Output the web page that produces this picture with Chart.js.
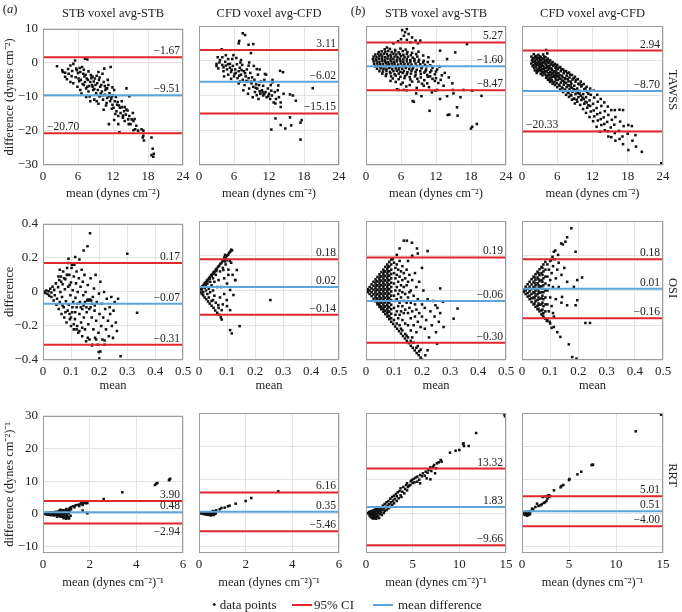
<!DOCTYPE html>
<html><head><meta charset="utf-8">
<script src="https://cdn.jsdelivr.net/npm/chart.js@4/dist/chart.umd.min.js"></script>
<style>
body{margin:0;width:682px;height:612px;position:relative;background:#fff;font-family:'Liberation Serif',serif;overflow:hidden;color:#222}
canvas{position:absolute}
.t{position:absolute;white-space:nowrap;font-size:12.5px;line-height:1}
.lg{position:absolute;white-space:nowrap;font-size:13px;line-height:1;transform:translateY(-50%)}
.ln{position:absolute;height:2px;width:20px}
</style></head><body>
<script>
// ---------- text ----------
const colTitles = ['STB voxel avg-STB','CFD voxel avg-CFD','STB voxel avg-STB','CFD voxel avg-CFD'];
const rowLabels = ['TAWSS','OSI','RRT'];
const yTitles = ['difference (dynes cm\u207B\u00B2)','difference','difference (dynes cm\u207B\u00B2)\u207B\u00B9'];
const xTitles = ['mean (dynes cm\u207B\u00B2)','mean','mean (dynes cm\u207B\u00B2)\u207B\u00B9'];
const legendLabels = ['data points','95% CI','mean difference'];

// ---------- axes ----------
const tawssXTicks = [0,6,12,18,24];
const osiXTicks = [0,0.1,0.2,0.3,0.4,0.5];
const rrtXTicksA = [0,2,4,6];
const rrtXTicksB = [0,5,10,15];
const tawssYTicks = [-30,-20,-10,0,10];
const osiYTicks = [-0.4,-0.2,0,0.2,0.4];
const rrtYTicks = [-10,0,10,20,30];
const yRanges = [[-30,10],[-0.4,0.4],[-12,30]];

// ---------- reference lines (per panel: TAWSS a-STB, a-CFD, b-STB, b-CFD, OSI ..., RRT ...) ----------
const ciUpper  = [1.67,3.11,5.27,2.94, 0.17,0.18,0.19,0.18, 3.90,6.16,13.32,5.01];
const meanDiff = [-9.51,-6.02,-1.60,-8.70, -0.07,0.02,-0.06,0.01, 0.48,0.35,1.83,0.51];
const ciLower  = [-20.70,-15.15,-8.47,-20.33, -0.31,-0.14,-0.30,-0.16, -2.94,-5.46,-9.66,-4.00];
const upperText = ['\u22121.67','3.11','5.27','2.94','0.17','0.18','0.19','0.18','3.90','6.16','13.32','5.01'];
const meanText  = ['\u22129.51','\u22126.02','\u22121.60','\u22128.70','\u22120.07','0.02','\u22120.06','0.01','0.48','0.35','1.83','0.51'];
const lowerText = ['\u221220.70','\u221215.15','\u22128.47','\u221220.33','\u22120.31','\u22120.14','\u22120.30','\u22120.16','\u22122.94','\u22125.46','\u22129.66','\u22124.00'];
const lowerPos  = ['L','R','R','L','R','R','R','R','B','R','R','R'];

// ---------- data points [x,y, x,y, ...] ----------
const tawssStbA = [2.4,-1.0, 3.3,-2.2, 3.4,-2.7, 3.8,-4.1, 3.8,-2.9, 4.1,-4.8, 4.3,-1.8, 4.4,-3.2, 4.7,-5.6, 4.7,-0.8, 4.9,-3.9, 5.0,-2.4, 5.2,-6.0, 5.2,-0.3, 5.5,0.7, 5.6,-4.2, 5.7,-1.7, 5.8,-2.2, 6.0,-3.0, 6.1,-4.6, 6.2,-5.4, 6.4,-2.7, 6.4,-8.0, 6.5,-5.0, 6.7,-1.2, 6.8,-6.2, 6.9,-3.2, 7.0,-2.0, 7.0,-6.5, 7.2,-5.6, 7.2,1.2, 7.3,-3.5, 7.4,-7.5, 7.5,-4.6, 7.6,1.0, 7.6,-7.0, 7.7,-5.0, 7.8,-8.4, 7.9,-6.8, 8.0,-9.9, 8.1,-5.6, 8.2,-3.6, 8.3,-4.5, 8.4,-6.5, 8.5,-7.0, 8.6,-8.0, 8.7,-5.5, 8.8,-10.8, 8.8,-7.7, 8.9,-4.6, 9.0,-6.5, 9.1,-8.9, 9.2,-11.3, 9.3,-6.0, 9.4,-8.0, 9.5,-2.7, 9.6,-5.0, 9.7,-9.9, 9.8,-7.0, 9.9,-9.0, 10.0,-6.5, 10.1,-8.4, 10.2,-9.5, 10.3,-10.8, 10.4,-5.6, 10.5,-1.7, 10.6,-9.4, 10.7,-8.0, 10.8,-7.5, 10.8,-12.5, 10.9,-11.8, 11.0,-10.3, 11.0,-7.5, 11.2,-6.5, 11.3,-9.8, 11.3,-18.0, 11.4,-8.9, 11.5,-11.3, 11.6,-1.2, 11.7,-10.5, 11.8,-9.9, 11.8,-13.5, 11.9,-12.3, 12.0,-9.5, 12.1,-13.2, 12.2,-8.0, 12.3,-11.3, 12.4,-15.0, 12.5,-10.0, 12.6,-14.2, 12.7,-12.3, 12.8,-11.5, 12.9,-15.6, 12.9,-18.0, 13.0,-12.5, 13.1,-20.4, 13.2,-13.2, 13.3,-14.7, 13.5,-11.3, 13.5,-13.0, 13.7,-16.1, 13.7,-15.5, 13.9,-14.2, 14.0,-17.1, 14.0,-13.0, 14.2,-15.2, 14.3,-13.7, 14.3,-7.5, 14.5,-14.0, 14.6,-16.6, 14.7,-18.0, 14.8,-15.6, 14.8,-9.8, 15.0,-18.0, 15.2,-16.6, 15.4,-14.7, 15.5,-17.1, 15.5,-19.8, 15.7,-16.5, 15.8,-19.5, 16.0,-18.5, 16.3,-19.9, 16.9,-19.5, 17.1,-21.9, 17.2,-19.9, 17.2,-21.4, 17.3,-22.8, 18.6,-21.9, 18.8,-25.2, 18.6,-27.1, 19.0,-26.7, 18.9,-27.6, 6.3,-1.5, 7.1,-4.0, 7.8,-2.5, 8.5,-4.0, 9.2,-3.8, 9.7,-4.3, 10.2,-3.2, 10.6,-6.8, 11.1,-5.0, 11.9,-7.2, 8.1,-11.3, 9.5,-12.0, 10.4,-13.8, 12.2,-16.8, 5.9,-7.0, 6.6,-9.0, 7.4,-10.0];

const tawssCfdA = [7.5,7.9, 7.9,7.4, 6.9,5.7, 6.8,5.0, 8.5,4.6, 9.3,4.8, 3.9,3.3, 8.9,2.2, 5.9,1.6, 4.6,1.6, 19.5,-7.9, 12.4,-19.8, 14.0,-18.5, 14.8,-19.5, 15.8,-18.6, 17.4,-17.8, 17.6,-17.1, 17.4,-22.7, 16.6,-11.5, 15.6,-9.7, 14.0,-13.3, 13.1,-12.3, 13.1,-16.6, 15.6,-16.3, 13.9,-2.9, 14.4,-3.3, 16.1,-10.0, 13.6,-7.1, 12.6,-6.2, 11.3,-3.8, 9.9,-2.4, 3.0,-0.9, 3.5,-0.5, 4.2,-1.9, 5.3,-0.9, 7.1,-0.5, 8.5,-1.4, 3.0,-1.5, 3.3,-2.2, 3.6,0.2, 4.0,-1.2, 4.2,-3.0, 4.5,-0.3, 4.8,-2.5, 5.0,-1.0, 5.0,-4.0, 5.3,-2.0, 5.5,-3.2, 5.7,0.5, 5.8,-1.5, 6.0,-4.5, 6.2,-2.5, 6.3,-3.5, 6.5,-1.0, 6.6,-5.0, 6.8,-3.0, 7.0,-2.0, 7.0,-6.0, 7.2,-4.0, 7.4,-1.2, 7.5,-5.5, 7.7,-3.0, 7.8,-7.0, 8.0,-4.5, 8.2,-2.5, 8.3,-6.0, 8.5,-5.0, 8.6,-8.0, 8.8,-3.5, 9.0,-6.5, 9.1,-4.8, 9.3,-7.5, 9.5,-5.5, 9.6,-9.0, 9.8,-6.8, 10.0,-8.0, 10.1,-4.0, 10.3,-7.0, 10.5,-9.5, 10.6,-6.0, 10.8,-8.5, 11.0,-10.0, 11.0,-7.2, 11.2,-5.5, 11.4,-9.0, 11.6,-10.5, 11.8,-8.0, 12.0,-9.5, 12.2,-11.0, 12.3,-7.0, 12.5,-10.0, 12.8,-12.0, 13.0,-9.0, 13.2,-11.0, 13.5,-8.5, 13.7,-10.5, 14.0,-12.0, 14.5,-9.5, 4.3,-4.5, 5.5,-5.2, 6.8,-6.5, 7.6,-8.5, 8.4,-9.5, 9.2,-10.5, 10.2,-11.0, 3.2,1.0, 4.0,1.0, 5.0,0.5, 6.4,0.8, 7.2,0.2, 8.6,-0.5, 9.4,-1.5, 10.4,-2.5, 11.5,-4.0, 12.6,-5.5, 6.1,-3.8, 6.9,-4.3, 7.3,-2.7, 8.1,-5.8, 8.9,-6.0, 9.7,-7.8, 10.4,-8.8, 11.2,-9.6, 11.9,-10.2, 10.9,-9.1, 9.9,-9.9, 12.4,-8.6, 7.9,-3.6, 5.6,-2.6, 4.6,-1.4];

const tawssStbB = [6.2,8.8, 7.0,9.1, 6.7,8.2, 7.3,7.7, 6.5,7.2, 7.9,6.7, 8.5,5.8, 9.3,5.8, 7.6,5.3, 4.7,5.0, 8.9,5.0, 6.0,6.2, 5.5,5.6, 7.0,6.0, 3.6,3.8, 17.3,4.8, 15.3,2.4, 12.7,2.9, 10.7,1.0, 13.9,0.5, 11.5,-0.2, 12.2,-2.5,
 4.2,-5.8, 5.3,-8.2, 6.5,-8.4, 8.2,-11.8, 8.0,-11.6, 8.6,-9.4, 9.9,-7.2, 10.9,-14.4, 11.3,-9.1, 12.2,-8.4, 12.7,-11.0, 13.3,-7.2, 13.9,-10.2, 14.2,-4.8, 14.0,-15.6, 14.3,-15.5, 15.7,-15.8, 15.6,-13.4, 15.0,-9.4, 16.2,-10.5, 16.7,-8.4, 18.0,-19.5, 18.2,-19.0, 19.0,-18.2, 19.8,-10.1, 18.2,-8.6, 11.8,-5.8, 10.5,-6.5, 9.5,-10.2, 7.5,-7.0, 6.0,-6.8, 11.0,-4.5, 12.8,-5.5, 13.5,-3.5, 10.2,-3.0, 14.8,-6.5, 9.0,-6.0,
 3.2,3.3, 4.1,3.4, 5.0,3.1, 5.9,3.5, 6.8,3.2, 8.1,3.6,
 2.2,2.5, 2.7,2.7, 3.3,2.6, 3.8,2.8, 4.4,2.5, 5.0,2.7, 5.6,2.4, 6.3,2.8, 7.1,2.5, 7.9,2.3, 9.0,2.6,
 1.6,1.8, 2.1,2.0, 2.6,1.8, 3.1,2.0, 3.6,1.9, 4.2,1.7, 4.7,2.0, 5.2,1.8, 5.8,1.9, 6.4,1.7, 7.0,2.0, 7.7,1.6, 8.6,1.9, 9.8,1.5,
 1.3,1.2, 1.8,1.1, 2.3,1.3, 2.8,1.2, 3.3,1.0, 3.8,1.3, 4.3,1.1, 4.9,1.2, 5.4,1.0, 6.0,1.3, 6.6,1.1, 7.2,1.2, 8.0,0.9, 8.8,1.2,
 1.2,0.5, 1.7,0.4, 2.2,0.6, 2.7,0.5, 3.2,0.3, 3.7,0.6, 4.2,0.4, 4.7,0.5, 5.3,0.3, 5.8,0.6, 6.4,0.4, 7.0,0.5, 7.6,0.2, 8.3,0.5, 9.1,0.3, 9.9,0.0,
 1.3,-0.2, 1.8,-0.1, 2.3,-0.3, 2.8,-0.1, 3.3,-0.2, 3.8,-0.4, 4.3,-0.1, 4.8,-0.3, 5.3,-0.2, 5.9,-0.1, 6.4,-0.3, 7.0,-0.2, 7.6,-0.4, 8.3,-0.1, 9.0,-0.3, 9.8,-0.5, 10.6,-0.4,
 1.4,-0.9, 1.9,-0.8, 2.4,-1.0, 2.9,-0.9, 3.4,-0.7, 3.9,-1.0, 4.4,-0.8, 4.9,-0.9, 5.5,-1.1, 6.0,-0.8, 6.6,-1.0, 7.2,-0.9, 7.8,-1.1, 8.5,-0.8, 9.3,-1.0, 10.1,-1.2, 11.0,-1.3,
 1.6,-1.6, 2.1,-1.5, 2.6,-1.7, 3.1,-1.6, 3.6,-1.4, 4.1,-1.7, 4.6,-1.5, 5.2,-1.6, 5.7,-1.8, 6.3,-1.5, 6.9,-1.7, 7.5,-1.6, 8.1,-1.9, 8.8,-1.5, 9.6,-1.8, 10.4,-1.6, 11.4,-2.0, 12.6,-1.7,
 1.9,-2.3, 2.5,-2.2, 3.0,-2.4, 3.5,-2.3, 4.0,-2.1, 4.5,-2.4, 5.1,-2.2, 5.6,-2.5, 6.2,-2.3, 6.8,-2.1, 7.4,-2.4, 8.0,-2.3, 8.7,-2.6, 9.5,-2.2, 10.3,-2.5, 11.2,-2.8,
 2.3,-3.0, 2.9,-3.1, 3.5,-2.9, 4.1,-3.2, 4.7,-3.0, 5.3,-2.9, 5.9,-3.2, 6.5,-3.0, 7.1,-3.3, 7.8,-2.9, 8.5,-3.2, 9.3,-3.0, 10.0,-3.4, 11.0,-3.3, 12.0,-3.1,
 2.8,-3.7, 3.5,-3.8, 4.2,-3.6, 4.9,-3.9, 5.6,-3.7, 6.3,-3.5, 7.0,-3.9, 7.7,-3.7, 8.5,-4.0, 9.4,-3.8, 10.5,-4.1, 11.8,-3.9, 13.0,-4.2,
 3.4,-4.4, 4.3,-4.5, 5.1,-4.3, 5.9,-4.6, 6.7,-4.4, 7.5,-4.7, 8.4,-4.5, 9.4,-4.8, 10.6,-4.6, 12.0,-5.0,
 4.6,-5.1, 5.6,-5.3, 6.6,-5.0, 7.6,-5.4, 8.8,-5.2, 10.0,-5.6, 11.4,-5.2,
 5.1,-6.1, 6.3,-6.3, 7.9,-6.0, 9.6,-6.6, 12.4,-6.4, 6.9,-7.4, 8.7,-7.8, 10.8,-7.6, 5.6,-8.4, 7.0,-8.5, 11.9,-8.6, 14.9,-8.4];

const tawssCfdB = [1.6,1.2, 1.7,0.1, 1.6,-0.8, 2.0,1.9, 2.1,0.7, 1.9,-0.3, 2.0,-1.3, 2.1,-2.1, 2.4,1.4, 2.5,0.4, 2.3,-0.6, 2.4,-1.7, 2.6,-2.5, 2.5,-3.5, 2.8,1.7, 2.9,0.8, 2.8,-0.2, 2.7,-1.1, 2.9,-2.1, 2.8,-3.0, 3.2,1.1, 3.3,0.2, 3.1,-0.9, 3.2,-1.8, 3.3,-2.9, 3.2,-3.8, 3.6,1.8, 3.7,0.5, 3.5,-0.4, 3.6,-1.5, 3.7,-2.4, 3.6,-3.3, 3.5,-4.2, 4.0,1.0, 4.1,3.1, 4.3,2.1, 3.9,0.0, 4.0,-1.0, 4.1,-2.1, 3.9,-3.0, 4.0,-4.0, 4.1,-4.9, 4.4,0.6, 4.5,-0.6, 4.3,-1.7, 4.4,-2.6, 4.5,-3.6, 4.3,-4.6, 4.4,-5.4, 4.8,0.1, 4.9,-1.1, 4.7,-2.0, 4.8,-3.2, 4.9,-4.1, 4.7,-5.0, 4.8,-6.1, 5.2,-0.4, 5.3,-1.5, 5.1,-2.6, 5.2,-3.7, 5.3,-4.6, 5.1,-5.7, 5.2,-6.6, 5.6,-0.9, 5.7,-2.0, 5.5,-3.0, 5.6,-4.1, 5.7,-5.0, 5.5,-6.1, 5.6,-7.0, 6.0,-1.2, 6.1,-2.4, 5.9,-3.5, 6.0,-4.4, 6.1,-5.5, 5.9,-6.5, 6.0,-7.6, 6.5,-1.8, 6.6,-3.0, 6.4,-4.1, 6.5,-5.2, 6.6,-6.3, 6.4,-7.2, 6.5,-8.3, 7.0,-2.5, 7.1,-3.6, 6.9,-4.8, 7.0,-5.8, 7.1,-6.9, 6.9,-7.9, 7.0,-9.0, 7.5,-3.0, 7.6,-4.3, 7.4,-5.3, 7.5,-6.4, 7.6,-7.6, 7.4,-8.6, 7.5,-9.8, 8.0,-3.4, 8.1,-4.8, 7.9,-5.9, 8.0,-7.1, 8.1,-8.1, 7.9,-9.3, 8.0,-10.4, 8.5,-4.1, 8.6,-5.4, 8.4,-6.6, 8.5,-7.8, 8.6,-8.9, 8.4,-10.0, 8.5,-11.2, 9.0,-4.6, 9.1,-6.0, 8.9,-7.2, 9.0,-8.4, 9.1,-9.6, 8.9,-10.9, 9.0,-12.3, 9.5,-5.3, 9.6,-6.6, 9.4,-8.0, 9.5,-9.3, 9.6,-10.5, 9.4,-11.8, 10.0,-6.0, 10.1,-7.4, 9.9,-8.7, 10.0,-10.1, 10.1,-11.3, 9.9,-12.7, 10.5,-6.7, 10.6,-8.2, 10.4,-9.6, 10.5,-11.0, 10.6,-12.4, 10.4,-13.9, 11.0,-7.5, 11.1,-9.0, 10.9,-10.5, 11.0,-12.0, 11.1,-13.5, 10.9,-15.0, 11.6,-8.0, 11.7,-9.8, 11.5,-11.4, 11.6,-13.0, 11.7,-14.6, 11.5,-16.2, 12.2,-8.6, 12.3,-10.6, 12.1,-12.4, 12.2,-14.3, 12.3,-16.0, 12.1,-17.4, 12.8,-9.8, 12.9,-11.8, 12.7,-13.6, 12.8,-15.4, 12.9,-17.2, 12.7,-19.0, 13.4,-11.0, 13.5,-13.0, 13.3,-15.0, 13.4,-16.8, 13.5,-18.5, 13.3,-20.4, 14.0,-12.0, 14.1,-14.5, 13.9,-16.3, 14.0,-18.2, 14.1,-20.0, 14.6,-13.2, 14.7,-15.6, 14.5,-17.6, 14.6,-20.3, 14.7,-21.8, 15.2,-14.2, 15.3,-17.0, 15.1,-19.2, 15.2,-22.0, 15.8,-14.2, 15.9,-16.2, 15.7,-18.4, 15.8,-20.8, 15.9,-23.0, 16.6,-14.1, 16.7,-17.5, 16.5,-20.2, 16.6,-22.5, 17.2,-14.2, 17.3,-18.8, 17.1,-21.8, 17.2,-24.0, 18.1,-18.5, 18.0,-21.0, 18.1,-25.7, 18.7,-18.8, 18.8,-23.0, 19.3,-21.4, 19.4,-24.7, 20.4,-26.2, 23.7,-29.5, 2.2,0.0, 2.6,-1.2, 3.0,-0.4, 3.4,-1.3, 3.8,-2.0, 4.2,-0.4, 4.6,-1.5, 5.0,-2.2, 5.4,-3.3, 5.8,-2.8, 3.0,1.2, 3.4,-3.3, 4.2,-3.1, 5.0,-4.8, 5.8,-4.6, 6.2,-3.6, 6.8,-4.3, 7.2,-6.2, 7.8,-5.2, 8.3,-6.0,
 1.8,0.6, 1.8,-1.6, 2.2,1.1, 2.2,-1.0, 2.2,-2.8, 2.6,0.9, 2.6,-0.6, 2.6,-3.0, 3.0,0.3, 3.0,-1.5, 3.0,-2.6, 3.4,0.7, 3.4,-0.8, 3.4,-2.4, 3.8,1.2, 3.8,-0.5, 3.8,-3.6, 4.2,0.2, 4.2,-1.4, 4.2,-4.3, 4.6,-0.2, 4.6,-2.3, 4.6,-4.2, 4.6,-5.6, 5.0,-0.8, 5.0,-3.4, 5.0,-5.5, 5.4,-1.2, 5.4,-4.4, 5.4,-6.2, 5.8,-1.7, 5.8,-3.7, 5.8,-5.6, 6.2,-2.0, 6.3,-4.8, 6.3,-6.9, 6.7,-2.4, 6.8,-5.7, 6.8,-7.7, 7.2,-3.0, 7.3,-5.0, 7.3,-8.3, 7.7,-3.6, 7.8,-7.0, 7.8,-9.0, 8.2,-4.0, 8.3,-7.4, 8.3,-9.8, 8.8,-5.0, 8.8,-8.2, 8.8,-11.0, 9.2,-5.5, 9.3,-8.8, 9.3,-11.2, 9.8,-6.8, 9.8,-9.5, 10.2,-7.0, 10.3,-10.6, 10.8,-8.0, 10.8,-11.8, 11.3,-9.5, 11.3,-12.8];

const osiStbA = [0.004,0.002, 0.008,-0.006, 0.012,0.008, 0.016,-0.012, 0.02,0.004, 0.022,-0.022, 0.026,0.018, 0.03,-0.03, 0.03,-0.004, 0.034,0.03, 0.038,-0.05, 0.04,0.012, 0.042,-0.02, 0.046,0.05, 0.048,-0.075, 0.05,-0.04, 0.054,0.028, 0.056,-0.1, 0.058,0.07, 0.06,-0.06, 0.062,0.0, 0.064,0.09, 0.066,-0.13, 0.068,-0.03, 0.07,0.045, 0.072,0.12, 0.074,-0.09, 0.076,-0.15, 0.078,0.015, 0.08,0.075, 0.082,-0.055, 0.084,-0.18, 0.086,0.14, 0.088,-0.11, 0.09,0.03, 0.09,0.17, 0.092,-0.075, 0.094,0.1, 0.096,-0.16, 0.098,-0.02, 0.1,0.055, 0.1,-0.2, 0.102,0.14, 0.104,-0.12, 0.106,0.01, 0.108,-0.06, 0.11,0.09, 0.11,-0.22, 0.112,0.16, 0.114,-0.16, 0.116,-0.035, 0.118,0.05, 0.12,-0.09, 0.12,0.12, 0.122,-0.2, 0.124,0.0, 0.126,-0.24, 0.128,0.08, 0.13,-0.13, 0.13,0.19, 0.132,-0.06, 0.134,0.03, 0.136,-0.18, 0.138,0.13, 0.14,-0.1, 0.14,-0.26, 0.142,0.06, 0.144,-0.02, 0.146,-0.15, 0.148,0.1, 0.15,-0.22, 0.15,-0.06, 0.152,0.0, 0.154,-0.29, 0.156,-0.12, 0.158,-0.05, 0.16,0.04, 0.16,-0.045, 0.162,-0.19, 0.164,-0.05, 0.166,-0.28, 0.168,-0.045, 0.17,-0.09, 0.17,0.08, 0.172,-0.05, 0.174,-0.15, 0.176,-0.31, 0.178,-0.03, 0.18,-0.22, 0.182,0.02, 0.184,-0.11, 0.186,-0.27, 0.188,0.1, 0.19,-0.17, 0.192,-0.06, 0.195,-0.31, 0.198,-0.24, 0.2,-0.01, 0.202,-0.13, 0.205,0.06, 0.208,-0.2, 0.21,-0.07, 0.212,-0.28, 0.215,-0.15, 0.218,0.0, 0.22,-0.31, 0.222,-0.1, 0.225,-0.22, 0.228,-0.04, 0.232,-0.17, 0.235,-0.26, 0.238,-0.09, 0.24,-0.13, 0.244,-0.03, 0.246,-0.2, 0.25,-0.27, 0.252,-0.11, 0.256,-0.06, 0.26,-0.18, 0.264,-0.23, 0.268,-0.04, 0.168,0.345, 0.159,0.268, 0.301,0.224, 0.336,-0.122, 0.277,-0.378, 0.201,-0.391, 0.199,-0.353, 0.145,0.243, 0.115,0.205, 0.091,0.195, 0.103,0.16, 0.175,-0.315, 0.19,-0.28, 0.205,-0.35, 0.16,-0.27, 0.22,-0.285, 0.06,0.13, 0.075,0.08, 0.095,0.04, 0.105,-0.09, 0.115,-0.12, 0.125,-0.07, 0.135,-0.09, 0.145,-0.08, 0.155,-0.09, 0.165,-0.1, 0.175,-0.07, 0.185,-0.08, 0.08,-0.12, 0.07,-0.08, 0.055,0.09, 0.065,0.06, 0.085,0.1, 0.095,-0.13, 0.1,-0.15, 0.11,-0.19, 0.12,-0.22, 0.13,-0.23, 0.14,-0.21];

const osiCfdA = [0.004,0.008, 0.008,0.015, 0.012,0.024, 0.016,0.031, 0.02,0.041, 0.024,0.047, 0.028,0.057, 0.032,0.063, 0.036,0.073, 0.04,0.079, 0.044,0.089, 0.048,0.095, 0.052,0.105, 0.056,0.11, 0.06,0.121, 0.064,0.126, 0.068,0.137, 0.072,0.142, 0.076,0.153, 0.08,0.158, 0.084,0.169, 0.088,0.174, 0.092,0.185, 0.096,0.19, 0.1,0.201, 0.104,0.206, 0.108,0.217, 0.112,0.224, 0.115,0.235, 0.118,0.231,
 0.005,-0.01, 0.01,-0.02, 0.015,-0.028, 0.02,-0.04, 0.026,-0.05, 0.032,-0.063, 0.038,-0.075, 0.045,-0.088, 0.052,-0.1, 0.058,-0.115, 0.065,-0.128, 0.072,-0.14, 0.078,-0.155, 0.081,-0.167,
 0.01,0.005, 0.015,-0.01, 0.02,0.015, 0.025,0.0, 0.025,0.03, 0.03,-0.02, 0.03,0.04, 0.035,0.01, 0.035,-0.04, 0.04,0.05, 0.04,-0.01, 0.045,0.03, 0.045,-0.06, 0.05,0.07, 0.05,0.0, 0.055,-0.03, 0.055,0.05, 0.06,0.09, 0.06,-0.07, 0.065,0.02, 0.07,0.06, 0.07,-0.1, 0.075,0.11, 0.075,-0.04, 0.08,0.02, 0.085,0.13, 0.085,-0.08, 0.09,0.07, 0.09,-0.02, 0.095,0.15, 0.1,0.04, 0.1,-0.09, 0.105,0.12, 0.11,0.17, 0.12,0.09, 0.13,0.06, 0.135,0.118, 0.129,0.06, 0.111,0.003, 0.099,-0.055, 0.123,-0.026, 0.105,0.09, 0.093,0.205, 0.093,0.167, 0.087,0.118, 0.081,-0.113, 0.111,-0.113, 0.069,-0.084, 0.05,-0.055, 0.255,-0.055, 0.145,-0.205, 0.111,-0.228, 0.117,-0.247, 0.09,0.19, 0.1,0.175, 0.115,0.16, 0.03,0.055, 0.038,0.068, 0.046,0.085, 0.054,0.098, 0.062,0.112];

const osiStbB = [0.006,0.0, 0.006,0.008, 0.006,-0.009, 0.013,0.02, 0.013,0.0, 0.013,-0.02, 0.02,0.035, 0.02,0.012, 0.02,-0.01, 0.02,-0.032,
 0.027,0.05, 0.027,0.027, 0.027,0.004, 0.027,-0.022, 0.027,-0.047, 0.034,0.064, 0.034,0.04, 0.034,0.015, 0.034,-0.01, 0.034,-0.035, 0.034,-0.062,
 0.041,0.078, 0.041,0.054, 0.041,0.03, 0.041,0.005, 0.041,-0.02, 0.041,-0.045, 0.041,-0.07, 0.041,-0.08,
 0.048,0.093, 0.048,0.068, 0.048,0.043, 0.048,0.018, 0.048,-0.007, 0.048,-0.032, 0.048,-0.057, 0.048,-0.082, 0.048,-0.094,
 0.055,0.106, 0.055,0.082, 0.055,0.057, 0.055,0.032, 0.055,0.007, 0.055,-0.018, 0.055,-0.043, 0.055,-0.068, 0.055,-0.093, 0.055,-0.108,
 0.062,0.12, 0.062,0.096, 0.062,0.07, 0.062,0.045, 0.062,0.02, 0.062,-0.005, 0.062,-0.03, 0.062,-0.055, 0.062,-0.08, 0.062,-0.105, 0.062,-0.122,
 0.069,0.136, 0.069,0.11, 0.069,0.084, 0.069,0.058, 0.069,0.033, 0.069,0.008, 0.069,-0.017, 0.069,-0.042, 0.069,-0.067, 0.069,-0.092, 0.069,-0.117, 0.069,-0.136,
 0.076,0.15, 0.076,0.124, 0.076,0.098, 0.076,0.072, 0.076,0.046, 0.076,0.02, 0.076,-0.005, 0.076,-0.03, 0.076,-0.056, 0.076,-0.082, 0.076,-0.108, 0.076,-0.13, 0.076,-0.15,
 0.083,0.165, 0.083,0.138, 0.083,0.11, 0.083,0.085, 0.083,0.06, 0.083,0.034, 0.083,0.008, 0.083,-0.018, 0.083,-0.044, 0.083,-0.07, 0.083,-0.096, 0.083,-0.122, 0.083,-0.148, 0.083,-0.165,
 0.09,0.178, 0.09,0.15, 0.09,0.12, 0.09,0.095, 0.09,0.07, 0.09,0.045, 0.09,0.02, 0.09,-0.005, 0.09,-0.03, 0.09,-0.056, 0.09,-0.082, 0.09,-0.108, 0.09,-0.134, 0.09,-0.16, 0.09,-0.18,
 0.0375,0.052, 0.0375,0.027, 0.0375,0.002, 0.0375,-0.023, 0.0375,-0.048,
 0.0515,0.08, 0.0515,0.055, 0.0515,0.03, 0.0515,0.005, 0.0515,-0.02, 0.0515,-0.045, 0.0515,-0.07, 0.0515,-0.095,
 0.0655,0.108, 0.0655,0.083, 0.0655,0.058, 0.0655,0.032, 0.0655,0.007, 0.0655,-0.018, 0.0655,-0.043, 0.0655,-0.068, 0.0655,-0.093, 0.0655,-0.118,
 0.0795,0.137, 0.0795,0.111, 0.0795,0.085, 0.0795,0.059, 0.0795,0.033, 0.0795,0.007, 0.0795,-0.018, 0.0795,-0.043, 0.0795,-0.069, 0.0795,-0.095, 0.0795,-0.121, 0.0795,-0.145,
 0.097,-0.192, 0.104,-0.207, 0.111,-0.22, 0.118,-0.234, 0.125,-0.248, 0.132,-0.262, 0.139,-0.276, 0.146,-0.29, 0.153,-0.303, 0.16,-0.318, 0.167,-0.33, 0.174,-0.345, 0.181,-0.36, 0.188,-0.372, 0.195,-0.386, 0.2,-0.398,
 0.1,-0.17, 0.11,-0.19, 0.12,-0.2, 0.13,-0.23, 0.14,-0.25, 0.15,-0.27, 0.16,-0.29, 0.17,-0.3, 0.18,-0.33, 0.19,-0.35, 0.125,-0.22, 0.145,-0.26, 0.165,-0.27, 0.185,-0.32, 0.195,-0.34,
 0.1,0.16, 0.1,0.1, 0.1,0.04, 0.1,-0.03, 0.1,-0.1, 0.105,0.13, 0.105,0.07, 0.105,0.0, 0.105,-0.06, 0.105,-0.14, 0.11,0.15, 0.11,0.09, 0.11,0.02, 0.11,-0.05, 0.11,-0.12, 0.115,0.12, 0.115,0.05, 0.115,-0.02, 0.115,-0.09, 0.115,-0.16, 0.12,0.17, 0.12,0.08, 0.12,0.0, 0.12,-0.07, 0.12,-0.14, 0.125,0.11, 0.125,0.03, 0.125,-0.04, 0.125,-0.12, 0.13,0.14, 0.13,0.06, 0.13,-0.01, 0.13,-0.09, 0.13,-0.17, 0.135,0.1, 0.135,0.02, 0.135,-0.06, 0.135,-0.13, 0.14,0.07, 0.14,-0.02, 0.14,-0.11, 0.14,-0.19, 0.145,0.12, 0.145,0.03, 0.145,-0.07, 0.15,0.17, 0.15,0.05, 0.15,-0.04, 0.15,-0.13, 0.15,-0.2, 0.155,0.09, 0.155,-0.01, 0.155,-0.1, 0.16,0.0, 0.16,-0.07, 0.16,-0.16, 0.16,-0.23, 0.165,0.06, 0.165,-0.12, 0.17,-0.03, 0.17,-0.2, 0.175,0.1, 0.175,-0.08, 0.175,-0.15, 0.18,0.02, 0.18,-0.11, 0.18,-0.24, 0.185,-0.05, 0.185,-0.18, 0.19,0.05, 0.19,-0.13, 0.195,-0.21, 0.2,-0.08, 0.2,-0.15, 0.205,0.0, 0.21,-0.1, 0.21,-0.22, 0.215,-0.17, 0.22,-0.05, 0.225,-0.27, 0.23,-0.12, 0.235,-0.2, 0.24,-0.06, 0.245,-0.15, 0.25,-0.24, 0.255,-0.1, 0.26,-0.18, 0.265,-0.13,
 0.135,0.287, 0.146,0.287, 0.164,0.275, 0.12,0.242, 0.182,0.242, 0.22,0.227, 0.185,0.213, 0.265,0.012, 0.275,-0.065, 0.327,-0.104, 0.313,-0.162, 0.248,-0.085, 0.277,-0.21, 0.254,-0.306, 0.22,-0.344, 0.212,-0.373, 0.165,0.2, 0.2,0.13, 0.095,0.18, 0.11,0.205];

const osiCfdB = [0.006,0.006, 0.006,-0.008, 0.013,0.022, 0.013,0.0, 0.013,-0.02, 0.02,0.036, 0.02,0.01, 0.02,-0.015, 0.02,-0.035,
 0.027,0.05, 0.027,0.022, 0.027,-0.005, 0.027,-0.03, 0.027,-0.05, 0.034,0.065, 0.034,0.035, 0.034,0.008, 0.034,-0.02, 0.034,-0.045, 0.034,-0.066,
 0.041,0.08, 0.041,0.05, 0.041,0.02, 0.041,-0.01, 0.041,-0.04, 0.041,-0.08, 0.048,0.094, 0.048,0.062, 0.048,0.03, 0.048,0.0, 0.048,-0.03, 0.048,-0.062, 0.048,-0.094,
 0.055,0.108, 0.055,0.075, 0.055,0.042, 0.055,0.01, 0.055,-0.022, 0.055,-0.055, 0.055,-0.088, 0.055,-0.108, 0.062,0.122, 0.062,0.088, 0.062,0.054, 0.062,0.02, 0.062,-0.014, 0.062,-0.048, 0.062,-0.082, 0.062,-0.12,
 0.069,0.136, 0.069,0.1, 0.069,0.06, 0.069,0.025, 0.069,-0.01, 0.069,-0.045, 0.069,-0.08, 0.069,-0.115, 0.069,-0.136, 0.076,0.15, 0.076,0.11, 0.076,0.07, 0.076,0.03, 0.076,-0.01, 0.076,-0.05, 0.076,-0.09, 0.076,-0.13, 0.076,-0.15,
 0.083,0.165, 0.083,0.12, 0.083,0.08, 0.083,0.04, 0.083,0.0, 0.083,-0.04, 0.083,-0.08, 0.083,-0.12, 0.083,-0.162,
 0.0445,0.075, 0.0445,0.045, 0.0445,0.015, 0.0445,-0.015, 0.0445,-0.045, 0.0445,-0.075, 0.0585,0.1, 0.0585,0.065, 0.0585,0.03, 0.0585,-0.005, 0.0585,-0.04, 0.0585,-0.075, 0.0585,-0.105, 0.0725,0.13, 0.0725,0.09, 0.0725,0.05, 0.0725,0.01, 0.0725,-0.03, 0.0725,-0.07, 0.0725,-0.11, 0.0725,-0.14,
 0.09,0.15, 0.09,0.08, 0.09,0.0, 0.09,-0.08, 0.09,-0.17, 0.095,0.12, 0.095,0.03, 0.095,-0.12, 0.1,0.17, 0.1,0.06, 0.1,-0.04, 0.1,-0.19, 0.105,0.1, 0.105,-0.09, 0.11,0.14, 0.11,0.02, 0.11,-0.13, 0.115,0.18, 0.12,0.07, 0.12,-0.05, 0.125,0.12, 0.13,0.16, 0.13,0.02, 0.14,0.09, 0.14,-0.07, 0.15,0.13, 0.16,0.05,
 0.175,0.358, 0.16,0.306, 0.154,0.281, 0.139,0.271, 0.145,0.265, 0.113,0.223, 0.118,0.23, 0.108,0.194, 0.103,0.175, 0.128,0.205, 0.19,0.223, 0.213,0.075, 0.196,0.06, 0.184,0.021, 0.196,-0.056, 0.19,-0.085, 0.225,-0.187, 0.241,-0.187, 0.16,-0.085, 0.142,-0.037, 0.136,-0.267, 0.166,-0.31, 0.178,-0.383, 0.193,-0.392, 0.113,-0.21, 0.098,-0.18, 0.113,-0.15, 0.088,-0.176, 0.125,-0.24, 0.105,-0.215];

const rrtStbA = [0.05,0.0, 0.1,0.1, 0.12,-0.1, 0.15,0.2, 0.18,-0.2, 0.2,0.0, 0.22,0.3, 0.25,-0.3, 0.28,0.1, 0.3,-0.1, 0.32,0.4, 0.35,-0.4, 0.38,0.2, 0.4,-0.2, 0.42,0.0, 0.45,0.5, 0.47,-0.5, 0.5,0.2, 0.52,-0.3, 0.55,0.6, 0.57,-0.1, 0.6,-0.6, 0.62,0.3, 0.65,-0.4, 0.67,0.8, 0.7,0.0, 0.72,-0.8, 0.74,0.5, 0.76,-0.3, 0.78,1.0, 0.8,-0.9, 0.82,0.2, 0.84,-0.5, 0.86,0.7, 0.88,-1.1, 0.9,0.0, 0.92,0.4, 0.94,-0.7, 0.96,1.1, 0.98,-1.2, 1.0,0.3, 1.02,-0.4, 1.05,0.9, 1.08,-1.0, 1.1,0.1, 1.12,-1.4, 1.15,0.6, 1.18,-0.6, 0.7,0.9, 0.75,1.2, 0.85,1.1, 0.6,-0.9, 0.9,-1.3, 0.5,0.0, 0.65,0.15, 0.8,-0.15,
 1.0,1.5, 1.1,1.3, 1.15,1.8, 1.2,2.1, 1.3,2.3, 1.35,2.0, 1.4,2.6, 1.5,2.8, 1.55,2.4, 1.6,3.0, 1.65,3.2, 1.7,2.7, 1.75,3.3, 1.8,3.4, 1.85,3.2, 1.9,3.3, 1.7,1.0, 1.9,0.2, 1.1,1.0, 1.2,1.4, 1.0,-1.5, 1.05,-1.0, 0.9,-1.3, 2.6,4.5, 3.4,6.6, 4.8,8.8, 4.85,9.2, 4.9,9.4, 5.4,10.3, 5.45,10.7, 5.42,10.5];

const rrtCfdA = [0.05,0.0, 0.1,-0.1, 0.12,0.1, 0.15,-0.2, 0.18,0.0, 0.2,-0.3, 0.22,0.15, 0.25,-0.1, 0.28,-0.4, 0.3,0.1, 0.32,-0.2, 0.35,-0.5, 0.38,0.2, 0.4,-0.3, 0.42,0.0, 0.45,-0.6, 0.47,0.25, 0.5,-0.2, 0.52,-0.7, 0.55,0.3, 0.57,-0.4, 0.6,0.0, 0.62,-0.6, 0.65,0.35, 0.68,-0.3, 0.7,0.5, 0.72,-0.1, 0.3,-0.3, 0.45,0.05, 0.55,-0.1,
 0.74,0.8, 0.6,0.6, 0.89,1.1, 0.96,1.5, 1.1,1.6, 1.24,2.0, 1.31,2.2, 1.57,2.8, 2.0,3.6, 2.24,4.5, 3.4,6.5];

const rrtStbB = [0.2,0.0, 0.3,-0.3, 0.35,0.3, 0.4,-0.8, 0.45,0.0, 0.5,0.5, 0.5,-1.2, 0.55,-0.4, 0.6,0.2, 0.65,-1.5, 0.7,0.7, 0.7,-0.7, 0.75,-0.1, 0.8,0.4, 0.8,-1.7, 0.85,-1.0, 0.9,0.9, 0.9,-0.3, 0.95,-1.4, 1.0,0.2, 1.0,-0.8, 1.05,1.1, 1.1,-1.7, 1.1,-0.4, 1.15,0.6, 1.2,-1.2, 1.25,0.0, 1.3,1.3, 1.3,-0.8, 1.4,0.5, 1.4,-1.5, 1.5,-0.3, 1.5,1.0, 0.6,-0.9, 1.0,-1.5,
 1.6,1.6, 1.6,0.2, 1.7,-0.6, 1.75,0.9, 1.8,2.2, 1.9,1.4, 1.9,0.0, 2.0,2.7, 2.0,0.6, 2.1,1.8, 2.2,3.2, 2.2,0.9, 2.3,2.2, 2.4,3.6, 2.4,1.4, 2.5,2.7, 2.6,4.3, 2.6,1.8, 2.7,3.2, 2.8,4.8, 2.8,2.4, 2.9,3.7, 3.0,5.2, 3.0,2.9, 3.1,4.2, 3.2,5.7, 3.3,3.6, 3.3,5.0, 3.4,6.2, 3.5,4.4, 3.6,6.6, 3.7,5.3, 3.7,7.4, 3.8,4.8, 3.9,6.4, 4.0,7.8, 4.1,5.9, 4.2,7.2, 4.3,8.4, 4.4,6.8, 4.4,8.9, 4.5,7.8, 4.6,8.2, 4.75,8.4, 4.8,9.5, 4.9,9.9, 5.0,9.0, 5.1,10.2, 5.2,9.2, 5.3,10.6, 5.5,9.4, 5.5,10.9, 5.7,10.0, 5.8,11.4, 5.8,8.9, 6.0,11.0, 6.1,11.9, 6.3,11.2, 6.4,12.4, 6.5,10.4, 6.6,12.1, 6.7,12.9, 6.9,13.7, 6.9,10.1, 7.0,12.6, 7.2,13.9, 7.3,14.4, 7.4,11.9, 7.5,13.4, 7.6,14.9, 7.8,15.2, 8.0,15.9, 8.1,15.4,
 9.0,18.1, 9.6,18.7, 10.0,18.9, 10.4,20.7, 10.5,20.1, 10.45,20.9, 11.0,20.1, 11.8,24.0, 14.75,30.0, 14.9,29.0, 14.85,29.5];

const rrtCfdB = [0.1,0.0, 0.15,-0.2, 0.2,0.1, 0.25,-0.4, 0.3,0.0, 0.35,-0.6, 0.35,0.2, 0.4,-0.2, 0.45,0.3, 0.5,-0.5, 0.5,0.0, 0.55,-0.8, 0.6,0.2, 0.6,-0.3, 0.65,-0.6, 0.7,0.4, 0.7,-0.1, 0.75,-0.5, 0.8,0.1, 0.85,-0.3, 0.9,0.5, 0.25,0.2, 0.45,-0.4, 0.65,0.0,
 1.07,1.3, 1.2,1.1, 1.42,1.8, 1.6,2.8, 1.75,2.1, 1.96,2.3, 2.1,2.6, 2.2,4.8, 2.3,3.0, 2.45,3.2, 2.5,5.0, 2.6,3.6, 2.7,4.3, 2.75,5.2, 2.85,5.3, 2.9,4.8, 3.0,5.1, 3.4,6.8, 4.1,7.7, 4.2,8.1, 4.4,8.4, 5.0,9.9, 5.05,10.2, 5.9,11.6, 6.3,12.4, 7.4,14.4, 7.5,14.4, 7.55,14.5, 12.1,24.5, 14.8,29.5];

// ---------- layout ----------
const COL_L = [43,199,366,522], COL_W = [140,140,140,141];
const ROW_T = [26,221,413], ROW_H = [139,139,140];
const PADL = 43, PADT = 10, PADR = 14, PADB = 40;
const xTitlePadB = [4,7,3];
const FONT = 'Liberation Serif';
const RED = '#e1262c', BLUE = '#5ba6dd', DOT = '#111';

const pointSets = [tawssStbA,tawssCfdA,tawssStbB,tawssCfdB, osiStbA,osiCfdA,osiStbB,osiCfdB, rrtStbA,rrtCfdA,rrtStbB,rrtCfdB];
const yTickSets = [tawssYTicks, osiYTicks, rrtYTicks];
function xTicksFor(r,c){ if(r===0) return tawssXTicks; if(r===1) return osiXTicks; return c<2 ? rrtXTicksA : rrtXTicksB; }
const fmt = v => (v<0?'\u2212':'') + String(+Math.abs(v).toFixed(2));
const toPts = a => { const o=[]; for(let i=0;i<a.length;i+=2) o.push({x:a[i], y:a[i+1]}); return o; };

const refPlugin = {
  id:'ref',
  afterDraw(chart){
    const {ctx, chartArea:a} = chart;
    const o = chart.options.plugins.ref;
    ctx.save();
    ctx.strokeStyle = '#9c9c9c'; ctx.lineWidth = 1;
    ctx.strokeRect(Math.round(a.left)+0.5, Math.round(a.top)+0.5, Math.round(a.right-a.left)-1, Math.round(a.bottom-a.top)-1);
    ctx.fillStyle = '#222'; ctx.font = '11.5px "'+FONT+'"';
    const ys = chart.scales.y;
    o.items.forEach(it=>{
      const y = ys.getPixelForValue(it.v);
      if(it.pos==='L'){ ctx.textAlign='left'; ctx.textBaseline='alphabetic'; ctx.fillText(it.t, a.left+4, y-3); }
      else if(it.pos==='B'){ ctx.textAlign='right'; ctx.textBaseline='top'; ctx.fillText(it.t, a.right-3, y+3); }
      else { ctx.textAlign='right'; ctx.textBaseline='alphabetic'; ctx.fillText(it.t, a.right-3, y-3); }
    });
    ctx.restore();
  }
};

for(let r=0;r<3;r++){
  for(let c=0;c<4;c++){
    const i = r*4+c;
    const xt = xTicksFor(r,c), yt = yTickSets[r];
    const xr = [xt[0], xt[xt.length-1]], yr = yRanges[r];
    const cv = document.createElement('canvas');
    const W = COL_W[c]+PADL+PADR, H = ROW_H[r]+PADT+PADB;
    cv.width = W; cv.height = H;
    cv.style.left = (COL_L[c]-PADL)+'px'; cv.style.top = (ROW_T[r]-PADT)+'px';
    cv.style.width = W+'px'; cv.style.height = H+'px';
    document.body.appendChild(cv);
    const hline = (v,col) => ({data:[{x:xr[0],y:v},{x:xr[1],y:v}], showLine:true, borderColor:col, borderWidth:2, pointRadius:0, backgroundColor:col});
    new Chart(cv, {
      type:'scatter',
      data:{datasets:[
        hline(ciUpper[i],RED), hline(ciLower[i],RED), hline(meanDiff[i],BLUE),
        {data:toPts(pointSets[i]), pointStyle:'rect', pointRadius:1.8, pointBorderWidth:0, backgroundColor:DOT, borderColor:DOT}
      ]},
      options:{
        responsive:false, animation:false, devicePixelRatio:1, events:[],
        layout:{padding:{left:0,top:PADT,right:PADR,bottom:0}},
        plugins:{legend:{display:false}, tooltip:{enabled:false},
          ref:{items:[{v:ciUpper[i],t:upperText[i],pos:'R'},{v:meanDiff[i],t:meanText[i],pos:'R'},{v:ciLower[i],t:lowerText[i],pos:lowerPos[i]}]}},
        scales:{
          x:{type:'linear', min:xr[0], max:xr[1],
             afterBuildTicks:s=>{ s.ticks = xt.map(v=>({value:v})); },
             afterFit:s=>{ s.height = PADB; },
             grid:{color:'#e4e4e4', drawTicks:false, lineWidth:1}, border:{display:false},
             ticks:{padding:4, color:'#222', font:{family:FONT,size:13}, maxRotation:0, autoSkip:false, callback:v=>fmt(v)},
             title:{display:true, text:xTitles[r], color:'#222', font:{family:FONT,size:12.5}, padding:{top:0,bottom:xTitlePadB[r]}}},
          y:{type:'linear', min:yr[0], max:yr[1],
             afterBuildTicks:s=>{ s.ticks = yt.map(v=>({value:v})); },
             afterFit:s=>{ s.width = PADL; },
             grid:{color:'#e4e4e4', drawTicks:false, lineWidth:1}, border:{display:false},
             ticks:{display:c===0, padding:5, color:'#222', font:{family:FONT,size:13}, autoSkip:false, callback:v=>fmt(v)},
             title:{display:c===0, text:yTitles[r], color:'#222', font:{family:FONT,size:12.5}, padding:{top:2,bottom:0}}}
        }
      },
      plugins:[refPlugin]
    });
  }
}

// ---------- html text ----------
function addText(html, x, y, extra){
  const d = document.createElement('div'); d.className='t'; d.innerHTML = html;
  d.style.left = x+'px'; d.style.top = y+'px';
  d.style.transform = 'translate(-50%,-50%)' + (extra||'');
  document.body.appendChild(d); return d;
}
colTitles.forEach((t,c)=> addText(t, COL_L[c]+COL_W[c]/2, 13));
addText('(<i>a</i>)', 10, 9);
addText('(<i>b</i>)', 358, 11);
const rowMid = [90, 288, 475];
rowLabels.forEach((t,r)=> addText(t, 673, rowMid[r], ' rotate(90deg)'));

// legend
function addLg(html, x){ const d=document.createElement('div'); d.className='lg'; d.innerHTML=html; d.style.left=x+'px'; d.style.top='604px'; document.body.appendChild(d); }
function addLn(col, x){ const d=document.createElement('div'); d.className='ln'; d.style.background=col; d.style.left=x+'px'; d.style.top='604px'; document.body.appendChild(d); }
addLg('\u2022 '+legendLabels[0], 212);
addLn(RED, 292); addLg(legendLabels[1], 314);
addLn(BLUE, 373); addLg(legendLabels[2], 398);
</script>
</body></html>
